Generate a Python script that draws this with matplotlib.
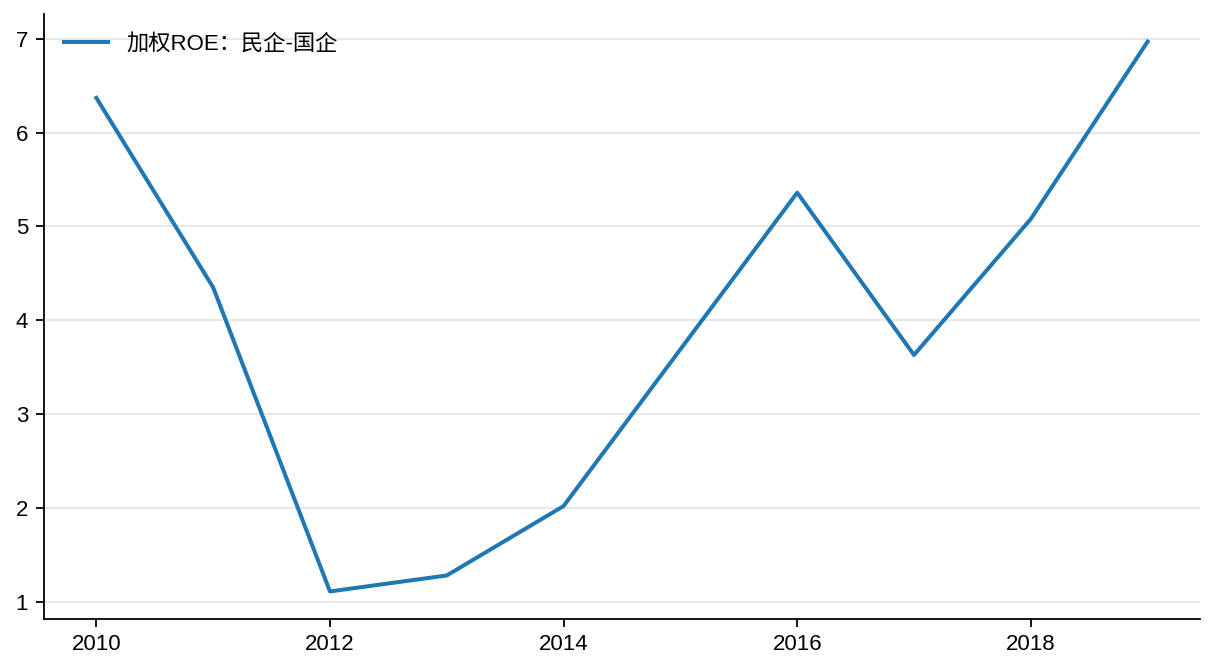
import matplotlib
matplotlib.use('Agg')
import matplotlib.pyplot as plt

years = [2010, 2011, 2012, 2013, 2014, 2015, 2016, 2017, 2018, 2019]
roe_diff = [6.37, 4.35, 1.11, 1.28, 2.02, 3.69, 5.36, 3.63, 5.08, 6.97]
label = '加权ROE：民企-国企'

plt.rcParams['font.family'] = ['Liberation Sans', 'Noto Sans CJK SC', 'DejaVu Sans']
plt.rcParams['font.size'] = 10

fig, ax = plt.subplots(figsize=(7.6, 4.2), dpi=160)
ax.plot(years, roe_diff, color='#1f77b4', linewidth=1.8, label=label)

ax.spines['top'].set_visible(False)
ax.spines['right'].set_visible(False)
ax.yaxis.grid(True, color='#e5e5e5', linewidth=0.8)
ax.set_axisbelow(True)
ax.legend(loc='upper left', frameon=False)

fig.subplots_adjust(left=0.036, right=0.987, top=0.979, bottom=0.079)
fig.savefig('out.png')
